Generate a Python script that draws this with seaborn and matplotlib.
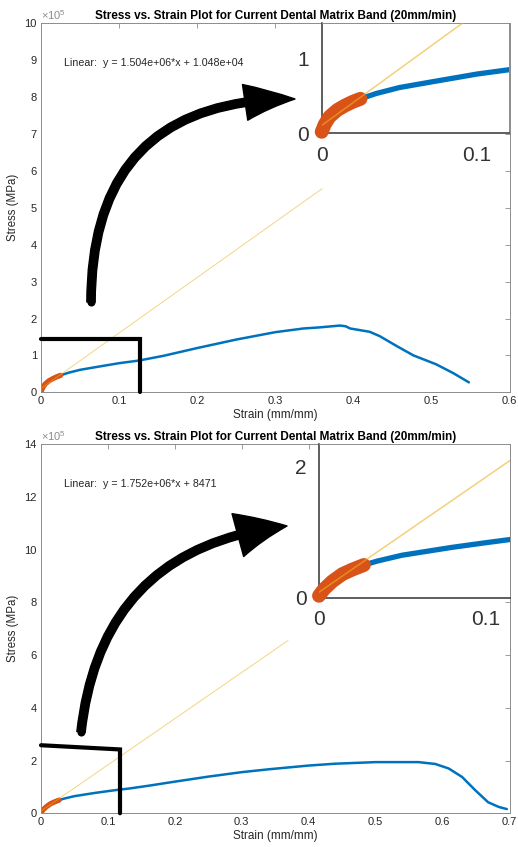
import numpy as np
import pandas as pd
import matplotlib
matplotlib.use("Agg")
import matplotlib.pyplot as plt
import seaborn as sns
from matplotlib.patches import FancyArrowPatch
from matplotlib.lines import Line2D
from matplotlib.ticker import FuncFormatter, MultipleLocator

# band 1 (top) - fitted region (orange) and full curve (blue), stress in MPa
fit_strain_1 = [0.0, 0.002, 0.005, 0.010, 0.015, 0.020, 0.025]
fit_stress_1 = [2e3, 1.2e4, 2.2e4, 3.1e4, 3.7e4, 4.2e4, 4.6e4]
strain_1 = [0.025, 0.035, 0.05, 0.072, 0.1, 0.125, 0.157, 0.2, 0.25, 0.3, 0.336,
            0.357, 0.383, 0.39, 0.396, 0.421, 0.434, 0.455, 0.477, 0.506, 0.528, 0.548]
stress_1 = [4.6e4, 5.3e4, 6.1e4, 6.9e4, 7.9e4, 8.6e4, 9.9e4, 1.20e5, 1.43e5, 1.63e5, 1.73e5,
            1.76e5, 1.81e5, 1.79e5, 1.73e5, 1.64e5, 1.52e5, 1.26e5, 1.00e5, 7.6e4, 5.2e4, 2.7e4]
line_x_1 = [0.0, 0.36]
line_y_1 = [1.048e4, 5.519e5]
eq_1 = "Linear:  y = 1.504e+06*x + 1.048e+04"
box_x_1 = [0.0, 0.127, 0.127]
box_y_1 = [1.44e5, 1.44e5, 0.0]

# band 2 (bottom)
fit_strain_2 = [0.0, 0.003, 0.008, 0.014, 0.020, 0.027]
fit_stress_2 = [3e3, 1.3e4, 2.5e4, 3.6e4, 4.3e4, 5.0e4]
strain_2 = [0.027, 0.035, 0.05, 0.065, 0.08, 0.1, 0.115, 0.132, 0.162, 0.2, 0.25, 0.3,
            0.341, 0.4, 0.44, 0.5, 0.564, 0.589, 0.609, 0.629, 0.649, 0.668, 0.684, 0.696]
stress_2 = [5.0e4, 5.6e4, 6.5e4, 7.1e4, 7.7e4, 8.4e4, 8.9e4, 9.4e4, 1.05e5, 1.20e5, 1.39e5, 1.56e5,
            1.67e5, 1.81e5, 1.88e5, 1.94e5, 1.94e5, 1.87e5, 1.70e5, 1.38e5, 8.7e4, 4.2e4, 2.4e4, 1.6e4]
line_x_2 = [0.0, 0.369]
line_y_2 = [8471, 6.55e5]
eq_2 = "Linear:  y = 1.752e+06*x + 8471"
box_x_2 = [0.0, 0.118, 0.118]
box_y_2 = [2.58e5, 2.42e5, 0.0]

title = "Stress vs. Strain Plot for Current Dental Matrix Band (20mm/min)"

sns.set_theme(style="white")
plt.rcParams['font.family'] = ['Liberation Sans', 'DejaVu Sans']
plt.rcParams['mathtext.fontset'] = 'custom'
plt.rcParams['mathtext.rm'] = 'Liberation Sans'
plt.rcParams['mathtext.it'] = 'Liberation Sans'

BLUE = '#0072BD'
ORANGE = '#D95319'
YELLOW = '#EDB120'
AX = '#8c8c8c'
TXT = '#262626'

fig = plt.figure(figsize=(5.18, 8.47), dpi=100)

panels = [
    dict(rect=[0.0792, 0.5368, 0.9044, 0.4357], inset=[0.621, 0.8426, 0.3625, 0.1299],
         xmax=0.6, ymax=10e5, ystep=1e5, ixmax=0.121, iymax=1.467e5, itick=1e5,
         fx=fit_strain_1, fy=fit_stress_1, x=strain_1, y=stress_1, lx=line_x_1, ly=line_y_1,
         eq=eq_1, bx=box_x_1, by=box_y_1,
         arrow=((91, 302), (295, 99)), rad=-0.5, hw=2.6),
    dict(rect=[0.0792, 0.0398, 0.9044, 0.436], inset=[0.6158, 0.2943, 0.3678, 0.1815],
         xmax=0.7, ymax=14e5, ystep=2e5, ixmax=0.1146, iymax=2.35e5, itick=2e5,
         fx=fit_strain_2, fy=fit_stress_2, x=strain_2, y=stress_2, lx=line_x_2, ly=line_y_2,
         eq=eq_2, bx=box_x_2, by=box_y_2,
         arrow=((81, 732), (287, 526)), rad=-0.4, hw=3.2),
]

W, H = 518, 847
for p in panels:
    ax = fig.add_axes(p['rect'])
    curve = pd.DataFrame({'strain': p['x'], 'stress': p['y']})
    fit = pd.DataFrame({'strain': p['fx'], 'stress': p['fy']})
    line = pd.DataFrame({'strain': p['lx'], 'stress': p['ly']})
    sns.lineplot(data=curve, x='strain', y='stress', ax=ax, color=BLUE, linewidth=1.8,
                 sort=False, estimator=None)
    sns.lineplot(data=fit, x='strain', y='stress', ax=ax, color=ORANGE, linewidth=3.8,
                 sort=False, estimator=None, solid_capstyle='round')
    sns.lineplot(data=line, x='strain', y='stress', ax=ax, color=YELLOW, linewidth=0.7,
                 alpha=0.55, sort=False, estimator=None)
    ax.plot(p['bx'], p['by'], color='black', linewidth=3.0, solid_joinstyle='miter',
            zorder=5, clip_on=False)

    ax.set_xlim(0, p['xmax'])
    ax.set_ylim(0, p['ymax'])
    ax.xaxis.set_major_locator(MultipleLocator(0.1))
    ax.yaxis.set_major_locator(MultipleLocator(p['ystep']))
    ax.xaxis.set_major_formatter(FuncFormatter(lambda v, _: f"{round(v, 2):g}"))
    ax.yaxis.set_major_formatter(FuncFormatter(lambda v, _: f"{round(v / 1e5, 2):g}"))
    ax.tick_params(direction='in', length=3.5, width=0.6, color=AX, labelcolor=TXT,
                   labelsize=8, top=True, right=True, pad=3)
    for s in ax.spines.values():
        s.set_color(AX)
        s.set_linewidth(0.7)
    ax.set_xlabel("Strain (mm/mm)", fontsize=8.5, color=TXT, labelpad=2)
    ax.set_ylabel("Stress (MPa)", fontsize=8.3, color=TXT, labelpad=4)
    ax.set_title(title, fontsize=8.5, fontweight='bold', color='black', pad=3)
    ax.text(0.0, 1.004, r"$\times$10$^{5}$", transform=ax.transAxes, fontsize=8,
            color=AX, ha='left', va='bottom')
    ax.text(0.049, 0.892, p['eq'], transform=ax.transAxes, fontsize=7.7, color=TXT,
            ha='left', va='center')

    # zoomed inset
    ins = fig.add_axes(p['inset'])
    ins.set_facecolor('white')
    sns.lineplot(data=curve, x='strain', y='stress', ax=ins, color=BLUE, linewidth=3.8,
                 sort=False, estimator=None)
    sns.lineplot(data=fit, x='strain', y='stress', ax=ins, color=ORANGE, linewidth=10,
                 sort=False, estimator=None, solid_capstyle='round', clip_on=False, zorder=3)
    sns.lineplot(data=line, x='strain', y='stress', ax=ins, color=YELLOW, linewidth=1.1,
                 alpha=0.6, sort=False, estimator=None, zorder=4)
    ins.set_xlim(0, p['ixmax'])
    ins.set_ylim(0, p['iymax'])
    ins.set_xticks([0, 0.1])
    ins.set_yticks([0, p['itick']])
    ins.xaxis.set_major_formatter(FuncFormatter(lambda v, _: f"{round(v, 2):g}"))
    ins.yaxis.set_major_formatter(FuncFormatter(lambda v, _: f"{round(v / 1e5, 2):g}"))
    ins.tick_params(direction='in', length=8, width=1.1, color='#333333', labelcolor='#333333',
                    labelsize=15, pad=9)
    ins.set_xlabel('')
    ins.set_ylabel('')
    for k, s in ins.spines.items():
        s.set_color('#333333' if k in ('left', 'bottom') else AX)
        s.set_linewidth(1.1 if k in ('left', 'bottom') else 0.7)

    (x0, y0), (x1, y1) = p['arrow']
    arr = FancyArrowPatch((x0 / W, 1 - y0 / H), (x1 / W, 1 - y1 / H),
                          transform=fig.transFigure,
                          connectionstyle=f"arc3,rad={p['rad']}",
                          arrowstyle=f"simple,head_length=3.6,head_width={p['hw']},tail_width=0.6",
                          mutation_scale=10, color='black', shrinkA=0, shrinkB=0, zorder=10)
    fig.patches.append(arr)
    # rounded tail end of the arrow
    fig.add_artist(Line2D([x0 / W], [1 - y0 / H], transform=fig.transFigure, marker='o',
                          markersize=5.8, color='black', markeredgewidth=0))

fig.savefig("out.png", dpi=100)
